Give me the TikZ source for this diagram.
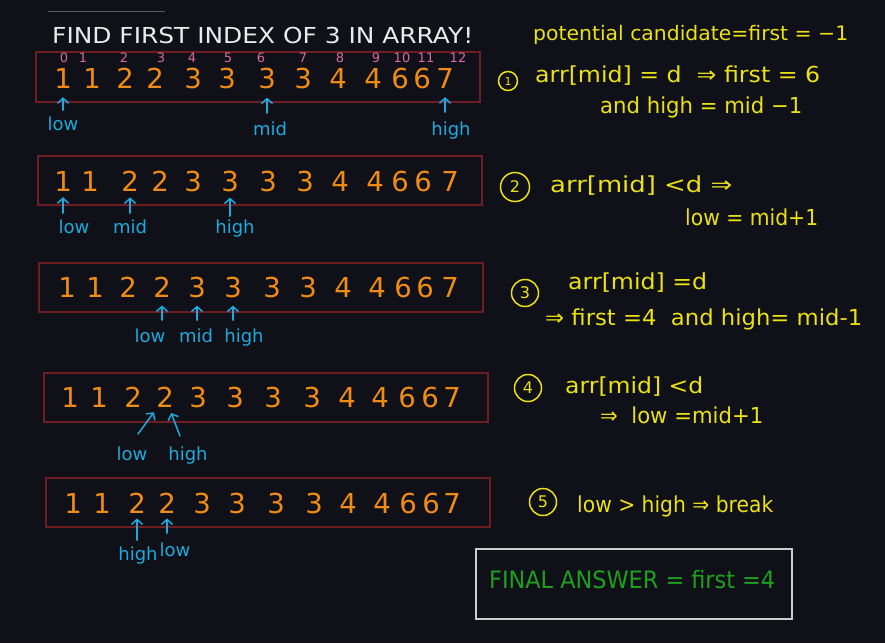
\documentclass[tikz,border=0pt]{standalone}
\usepackage{fontspec}
\setmainfont{DejaVu Sans}
\usepackage{graphicx}
\usetikzlibrary{arrows.meta,calc}
\definecolor{bgc}{RGB}{15,16,24}
\definecolor{orng}{RGB}{240,140,20}
\definecolor{pnk}{RGB}{216,104,168}
\definecolor{cyn}{RGB}{30,170,220}
\definecolor{yel}{RGB}{235,225,20}
\definecolor{grn}{RGB}{30,160,30}
\definecolor{boxred}{RGB}{110,30,35}
\definecolor{fbox}{RGB}{205,205,205}
\definecolor{ttl}{RGB}{235,235,235}
\definecolor{topline}{RGB}{90,90,100}
\newcommand\fitw[2]{\resizebox{#1pt}{\height}{#2}}
\tikzset{
  digit/.style={inner sep=0pt, text=orng, font=\fontsize{27.5}{30}\selectfont},
  idx/.style={inner sep=0pt, text=pnk, font=\fontsize{13}{15}\selectfont},
  lbl/.style={inner sep=0pt, anchor=base, text=cyn, font=\fontsize{18}{20}\selectfont},
  ptr/.style={draw=cyn, line width=1.5pt, line cap=round, -{Straight Barb[length=5pt,width=11pt,line width=1.5pt]}},
  arrbox/.style={draw=boxred, line width=1.3pt},
  note/.style={inner sep=0pt, anchor=base west, text=yel, font=\fontsize{22}{24}\selectfont},
  circnum/.style={circle, draw=yel, line width=1.5pt, text=yel, inner sep=0pt},
}
\newcommand\ptrup[4]{\draw[ptr, shorten <=#3pt, shorten >=#4pt] (#2.north -| #1) -- (#1.south);}
\newcommand\digitrow[3]{%
  \foreach \xx/\dd [count=\i from 0] in {#3} {
    \node[digit] (r#1d\i) at (\xx,-#2) {\dd};
  }}
\begin{document}
\begin{tikzpicture}[x=1pt,y=1pt]
\fill[bgc] (0,0) rectangle (885,-643);
\useasboundingbox (0,0) rectangle (885,-643);

\draw[topline, line width=0.8pt] (48,-11) -- (165,-11);
\node[inner sep=0pt, anchor=base west, text=ttl, font=\fontsize{22}{24}\selectfont] (title) at (52,-43) {\fitw{421}{FIND FIRST INDEX OF 3 IN ARRAY!}};

% ---------- row 1
\draw[arrbox] (36,-52) rectangle (480,-102);
\foreach \xx/\nn [count=\i from 0] in {64/0,83/1,124/2,161/3,192/4,228/5,261/6,303/7,340/8,376/9,402/10,426/11,458/12}
  \node[idx] (ix\i) at (\xx,-58) {\nn};
\digitrow{1}{78}{63/1,92/1,125/2,155/2,193/3,227/3,267/3,303/3,338/4,373/4,400/6,422/6,445/7}
\node[lbl] (r1low) at (63,-130) {low};
\node[lbl] (r1mid) at (270,-135) {mid};
\node[lbl] (r1high) at (451,-135) {high};
\ptrup{r1d0}{r1low}{6}{9}
\ptrup{r1d6}{r1mid}{8}{9}
\ptrup{r1d12}{r1high}{9}{9}

% ---------- row 2
\draw[arrbox] (38,-156) rectangle (482,-205);
\digitrow{2}{181}{63/1,90/1,130/2,160/2,193/3,230/3,268/3,305/3,340/4,375/4,400/6,423/6,450/7}
\node[lbl] (r2low) at (74,-233) {low};
\node[lbl] (r2mid) at (130,-233) {mid};
\node[lbl] (r2high) at (235,-233) {high};
\ptrup{r2d0}{r2low}{6}{6}
\ptrup{r2d2}{r2mid}{6}{6}
\ptrup{r2d5}{r2high}{3}{6}

% ---------- row 3
\draw[arrbox] (39,-263) rectangle (483,-312);
\digitrow{3}{287}{67/1,95/1,128/2,162/2,197/3,233/3,272/3,308/3,343/4,377/4,403/6,425/6,450/7}
\node[lbl] (r3low) at (150,-342) {low};
\node[lbl] (r3mid) at (196,-342) {mid};
\node[lbl] (r3high) at (244,-342) {high};
\ptrup{r3d3}{r3low}{8}{8}
\ptrup{r3d4}{r3mid}{8}{8}
\ptrup{r3d5}{r3high}{8}{8}

% ---------- row 4
\draw[arrbox] (44,-373) rectangle (488,-422);
\digitrow{4}{397}{70/1,99/1,133/2,165/2,198/3,235/3,273/3,312/3,347/4,380/4,407/6,430/6,452/7}
\node[lbl] (r4low) at (132,-460) {low};
\node[lbl] (r4high) at (188,-460) {high};
\coordinate (t4low) at (138,-434);
\coordinate (t4high) at (180,-436);
\draw[ptr, shorten >=6pt] (t4low) -- (r4d3);
\draw[ptr, shorten >=6pt] (t4high) -- (r4d3);

% ---------- row 5
\draw[arrbox] (46,-478) rectangle (490,-527);
\digitrow{5}{503}{73/1,102/1,137/2,167/2,202/3,237/3,276/3,314/3,348/4,382/4,408/6,431/6,452/7}
\node[lbl] (r5high) at (138,-560) {high};
\node[lbl] (r5low) at (175,-556) {low};
\ptrup{r5d2}{r5high}{6}{5}
\ptrup{r5d3}{r5low}{9}{5}

% ---------- notes
\node[note, font=\fontsize{20}{22}\selectfont] (n0) at (533,-40) {\fitw{315}{potential candidate=first = −1}};
\node[circnum, minimum size=19pt, font=\fontsize{11}{12}\selectfont] (c1) at (508,-81) {1};
\node[note] (n1a) at (535,-82) {\fitw{285}{arr[mid] = d \ ⇒ first = 6}};
\node[note] (n1b) at (600,-113) {\fitw{202}{and high = mid −1}};

\node[circnum, minimum size=29pt, font=\fontsize{16}{17}\selectfont] (c2) at (515,-187) {2};
\node[note] (n2a) at (550,-192) {\fitw{182}{arr[mid] <d ⇒}};
\node[note] (n2b) at (685,-225) {\fitw{133}{low = mid+1}};

\node[circnum, minimum size=27pt, font=\fontsize{16}{17}\selectfont] (c3) at (525,-293) {3};
\node[note] (n3a) at (568,-289) {\fitw{139}{arr[mid] =d}};
\node[note] (n3b) at (545,-325) {\fitw{317}{⇒ first =4 \ and high= mid-1}};

\node[circnum, minimum size=27pt, font=\fontsize{16}{17}\selectfont] (c4) at (528,-388) {4};
\node[note] (n4a) at (565,-393) {\fitw{138}{arr[mid] <d}};
\node[note] (n4b) at (600,-423) {\fitw{163}{⇒ \ low =mid+1}};

\node[circnum, minimum size=27pt, font=\fontsize{16}{17}\selectfont] (c5) at (543,-502) {5};
\node[note] (n5) at (577,-512) {\fitw{196}{low > high ⇒ break}};

% ---------- final answer
\draw[fbox, line width=2pt] (476,-549) rectangle (792,-619);
\node[inner sep=0pt, anchor=base west, text=grn, font=\fontsize{24}{26}\selectfont] (fin) at (489,-588) {\fitw{286}{FINAL ANSWER = first =4}};
\end{tikzpicture}
\end{document}
